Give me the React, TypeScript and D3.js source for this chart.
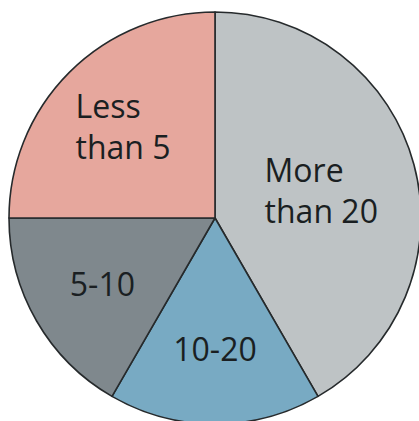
import React, { useEffect, useRef } from "react";
import * as d3 from "d3";

const categories = ["More than 20", "10-20", "5-10", "Less than 5"];
const labelLines = [["More", "than 20"], ["10-20"], ["5-10"], ["Less", "than 5"]];
const values = [5, 2, 2, 3];
const colors = ["#bec3c5", "#78aac3", "#7f888d", "#e6a79d"];

const W = 419;
const H = 421;

export default function App() {
  const ref = useRef<SVGSVGElement | null>(null);

  useEffect(() => {
    const svg = d3.select(ref.current);
    svg.selectAll("*").remove();
    const cx = 215;
    const cy = 218;
    const R = 206;
    const g = svg.append("g").attr("transform", `translate(${cx},${cy})`);
    const data = categories.map((c, i) => ({ c, v: values[i], i }));
    const pie = d3.pie<any>().sort(null).value((d: any) => d.v);
    const arcs = pie(data);
    const arc = d3.arc<any>().innerRadius(0).outerRadius(R);
    g.selectAll("path.slice")
      .data(arcs)
      .enter()
      .append("path")
      .attr("class", "slice")
      .attr("d", arc as any)
      .attr("fill", (d: any) => colors[d.data.i])
      .attr("stroke", "#262a2c")
      .attr("stroke-width", 1.6)
      .attr("stroke-linejoin", "round");

    const labelRadius = (i: number) => (i === 0 ? 110 : 130);
    arcs.forEach((a: any) => {
      const i = a.data.i;
      const r = labelRadius(i);
      const la = d3.arc<any>().innerRadius(r).outerRadius(r);
      const [tx, ty] = la.centroid(a);
      const t = g
        .append("text")
        .attr("font-family", "'Open Sans', sans-serif")
        .attr("font-size", 32)
        .attr("fill", "#1a1f22");
      labelLines[i].forEach((line, k) => {
        t.append("tspan").attr("x", 0).attr("y", k * 41).text(line);
      });
      const bb = (t.node() as SVGTextElement).getBBox();
      t.attr(
        "transform",
        `translate(${tx - (bb.x + bb.width / 2)},${ty - (bb.y + bb.height / 2)})`
      );
    });
  }, []);

  return (
    <svg
      ref={ref}
      width={W}
      height={H}
      style={{ position: "absolute", left: 0, top: 0, background: "#fff" }}
    />
  );
}
